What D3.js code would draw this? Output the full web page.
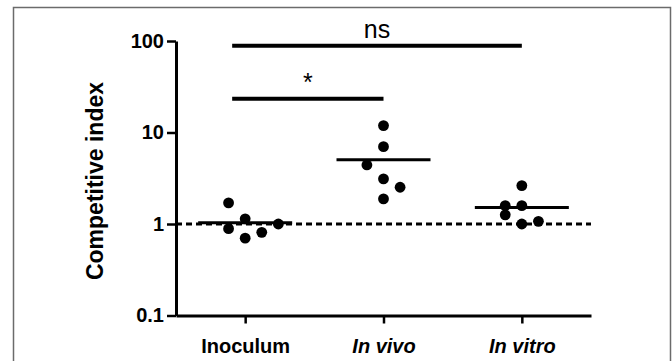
<!DOCTYPE html>
<html>
<head>
<meta charset="utf-8">
<script src="https://cdn.jsdelivr.net/npm/d3@7"></script>
<style>
  html, body { margin: 0; padding: 0; background: #fff; }
  svg { display: block; font-family: 'Liberation Sans', Arial, sans-serif; }
</style>
</head>
<body>
<svg id="chart" width="672" height="361"></svg>
<script>
const categories = ['Inoculum', 'In vivo', 'In vitro'];

// replicate values and their column slot inside each group (as GraphPad spreads them)
const inoculumValues = [1.70, 1.14, 0.89, 0.70, 0.81, 1.00];
const inoculumCols = [-1, 0, -1, 0, 1, 2];
const inVivoValues = [11.9, 7.0, 4.42, 3.11, 2.52, 1.88];
const inVivoCols = [0, 0, -1, 0, 1, 0];
const inVitroValues = [2.63, 1.59, 1.59, 1.26, 1.00, 1.07];
const inVitroCols = [0, -1, 0, -1, 0, 1];

const means = [1.03, 5.05, 1.51];
const referenceLevel = 1;

const yTicks = [0.1, 1, 10, 100];
const yTickLabels = ['0.1', '1', '10', '100'];

const compFrom = ['Inoculum', 'Inoculum'];
const compTo = ['In vivo', 'In vitro'];
const compLevel = [23.4, 88.5];
const compLabel = ['*', 'ns'];

const svg = d3.select('#chart');

// outer frame
svg.append('rect')
  .attr('x', 13.5)
  .attr('y', 7.5)
  .attr('width', 657)
  .attr('height', 370)
  .attr('fill', 'none')
  .attr('stroke', '#6b6b6b')
  .attr('stroke-width', 1.5);

const xScale = d3.scalePoint()
  .domain(categories)
  .range([176, 591])
  .padding(0.5);

const yScale = d3.scaleLog()
  .domain([0.1, 100])
  .range([315.5, 41]);

const slotScale = d3.scaleLinear().domain([0, 1]).range([0, 16.6]);

// Axes
const yAxis = svg.append('g')
  .attr('transform', 'translate(176,0)')
  .call(d3.axisLeft(yScale)
    .tickValues(yTicks)
    .tickFormat((d, i) => yTickLabels[i])
    .tickSize(9)
    .tickSizeOuter(0)
    .tickPadding(3));

const xAxis = svg.append('g')
  .attr('transform', `translate(0,${yScale(0.1)})`)
  .call(d3.axisBottom(xScale)
    .tickSize(8)
    .tickSizeOuter(0)
    .tickPadding(15));

[yAxis, xAxis].forEach(ax => {
  ax.attr('font-size', null).attr('font-family', null);
  ax.select('.domain').attr('stroke', '#000').attr('stroke-width', 3);
  ax.selectAll('.tick line').attr('stroke', '#000').attr('stroke-width', 2.5);
  ax.selectAll('.tick text')
    .attr('fill', '#000')
    .style('font-size', '20px')
    .style('font-weight', 'bold');
});

xAxis.selectAll('.tick text')
  .style('font-style', d => d === 'Inoculum' ? 'normal' : 'italic');

// Y title
svg.append('text')
  .attr('transform', 'translate(103,181) rotate(-90)')
  .attr('text-anchor', 'middle')
  .style('font-size', '23px')
  .style('font-weight', 'bold')
  .text('Competitive index');

// dashed line at 1
svg.append('line')
  .attr('x1', xScale.range()[0])
  .attr('x2', xScale.range()[1])
  .attr('y1', yScale(referenceLevel))
  .attr('y2', yScale(referenceLevel))
  .attr('stroke', '#000')
  .attr('stroke-width', 3)
  .attr('stroke-dasharray', '6,4');

// Points
const groups = [
  { cat: 'Inoculum', values: inoculumValues, cols: inoculumCols },
  { cat: 'In vivo', values: inVivoValues, cols: inVivoCols },
  { cat: 'In vitro', values: inVitroValues, cols: inVitroCols }
];

groups.forEach(grp => {
  svg.append('g')
    .selectAll('circle')
    .data(grp.values)
    .enter()
    .append('circle')
    .attr('cx', (d, i) => xScale(grp.cat) + slotScale(grp.cols[i]))
    .attr('cy', d => yScale(d))
    .attr('r', 5.4)
    .attr('fill', '#000');
});

// mean lines
svg.append('g')
  .selectAll('line')
  .data(means)
  .enter()
  .append('line')
  .attr('x1', (d, i) => xScale(categories[i]) - 47)
  .attr('x2', (d, i) => xScale(categories[i]) + 47)
  .attr('y1', d => yScale(d))
  .attr('y2', d => yScale(d))
  .attr('stroke', '#000')
  .attr('stroke-width', 3);

// significance bars
compLabel.forEach((lab, i) => {
  const x1 = xScale(compFrom[i]) - 13;
  const x2 = xScale(compTo[i]);
  const y = yScale(compLevel[i]);
  svg.append('line')
    .attr('x1', x1)
    .attr('x2', x2)
    .attr('y1', y)
    .attr('y2', y)
    .attr('stroke', '#000')
    .attr('stroke-width', 4);
  svg.append('text')
    .attr('x', (x1 + x2) / 2)
    .attr('y', y - 8)
    .attr('text-anchor', 'middle')
    .style('font-size', '25px')
    .text(lab);
});
</script>
</body>
</html>
